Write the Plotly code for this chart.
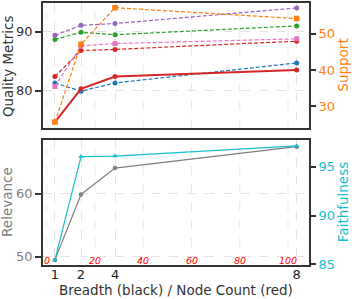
import plotly.graph_objects as go

# ---- data ----
breadth_labels = ["1", "2", "4", "8"]
node_counts = [3.4, 14.2, 28.3, 103.6]          # x positions (node count units)
node_ticks = [0, 20, 40, 60, 80, 100]

q_red_solid = [74.65, 80.3, 82.4, 83.5]
q_purple = [89.4, 91.1, 91.4, 94.05]
q_green = [88.7, 89.9, 89.5, 91.0]
q_pink = [80.7, 87.6, 88.0, 88.8]
q_red_dash = [82.4, 86.8, 87.0, 88.4]
q_blue = [81.3, 79.9, 81.3, 84.7]
support = [25.6, 47.1, 57.2, 54.2]
relevance = [49.5, 59.9, 64.1, 67.5]
faithfulness = [85.45, 96.05, 96.1, 97.14]

BLUE, ORANGE, GREEN, RED = "#1f77b4", "#ff7f0e", "#2ca02c", "#d62728"
PURPLE, PINK, GRAY, CYAN = "#9467bd", "#e377c2", "#7f7f7f", "#17becf"
FONT = "DejaVu Sans"
DARK = "#333333"
GRID = "#e3e3e3"

fig = go.Figure()

def dashed(y, color, symbol="circle"):
    return go.Scatter(x=node_counts, y=y, mode="lines+markers", xaxis="x", yaxis="y",
                      line=dict(color=color, width=1.2, dash="4px,2px"),
                      marker=dict(color=color, size=5, symbol=symbol), showlegend=False)

fig.add_trace(dashed(q_blue, BLUE))
fig.add_trace(dashed(q_red_dash, RED))
fig.add_trace(dashed(q_pink, PINK, "square"))
fig.add_trace(dashed(q_green, GREEN))
fig.add_trace(dashed(q_purple, PURPLE))
fig.add_trace(go.Scatter(x=node_counts, y=q_red_solid, mode="lines+markers", xaxis="x", yaxis="y",
                         line=dict(color=RED, width=2), marker=dict(color=RED, size=5),
                         showlegend=False))
fig.add_trace(go.Scatter(x=node_counts, y=support, mode="lines+markers", xaxis="x", yaxis="y2",
                         line=dict(color=ORANGE, width=1.2, dash="4px,2px"),
                         marker=dict(color=ORANGE, size=5.5, symbol="square"), showlegend=False))

fig.add_trace(go.Scatter(x=node_counts, y=relevance, mode="lines+markers", xaxis="x2", yaxis="y3",
                         line=dict(color=GRAY, width=1.2), marker=dict(color=GRAY, size=4.5),
                         showlegend=False))
fig.add_trace(go.Scatter(x=node_counts, y=faithfulness, mode="lines+markers", xaxis="x2", yaxis="y4",
                         line=dict(color=CYAN, width=1.2),
                         marker=dict(color=CYAN, size=5, symbol="triangle-up"), showlegend=False))

xr = [-1.55, 108.7]
common_x = dict(range=xr, tickvals=node_counts, ticktext=breadth_labels, showgrid=True,
                gridcolor=GRID, griddash="dash", gridwidth=0.8, zeroline=False,
                showline=True, mirror=True, linecolor=DARK, linewidth=1.5)

fig.update_layout(
    width=352, height=299,
    margin=dict(l=43, r=43, t=1, b=34),
    paper_bgcolor="white", plot_bgcolor="white",
    font=dict(family=FONT, size=13, color=DARK),
    xaxis=dict(domain=[0, 1], anchor="y", showticklabels=False, ticks="", **common_x),
    yaxis=dict(domain=[0.524, 1], anchor="x", range=[73.69, 94.89], tickvals=[80, 90],
               showgrid=True, gridcolor=GRID, griddash="dash", gridwidth=0.8, zeroline=False,
               showline=True, mirror=True, linecolor=DARK, linewidth=1.5,
               ticks="outside", ticklen=6, tickcolor=DARK, tickwidth=1.5,
               tickfont=dict(size=13, color=DARK)),
    yaxis2=dict(overlaying="y", side="right", anchor="x", range=[24.05, 58.5],
                tickvals=[30, 40, 50], showgrid=False, zeroline=False,
                ticks="outside", ticklen=6, tickcolor=DARK, tickwidth=1.5,
                tickfont=dict(size=13, color=ORANGE)),
    xaxis2=dict(domain=[0, 1], anchor="y3", matches="x", ticks="", ticklabelstandoff=-3,
                tickfont=dict(size=13, color="#222222"), **common_x),
    yaxis3=dict(domain=[0, 0.479], anchor="x2", range=[48.69, 68.64], tickvals=[50, 60],
                showgrid=True, gridcolor=GRID, griddash="dash", gridwidth=0.8, zeroline=False,
                showline=True, mirror=True, linecolor=DARK, linewidth=1.5,
                ticks="outside", ticklen=6, tickcolor=DARK, tickwidth=1.5,
                tickfont=dict(size=13, color=GRAY)),
    yaxis4=dict(overlaying="y3", side="right", anchor="x2", range=[84.93, 97.8],
                tickvals=[85, 90, 95], showgrid=False, zeroline=False,
                ticks="outside", ticklen=6, tickcolor=DARK, tickwidth=1.5,
                tickfont=dict(size=13, color=CYAN)),
)

# node-count gridlines in both panels
shapes = []
for v in node_ticks:
    for xref, yref in (("x", "y domain"), ("x2", "y3 domain")):
        shapes.append(dict(type="line", xref=xref, yref=yref, x0=v, x1=v, y0=0, y1=1,
                           layer="below", line=dict(color=GRID, width=0.8, dash="dash")))
fig.update_layout(shapes=shapes)

annotations = []
for v in node_ticks:
    annotations.append(dict(x=v, y=0.034, xref="x2", yref="y3 domain", text=f"<i>{v}</i>",
                            showarrow=False, xanchor="center", yanchor="middle",
                            font=dict(family=FONT, size=9.5, color="red")))

def title(text, x, y, color, angle=-90):
    return dict(x=x, y=y, xref="paper", yref="paper", text=text, showarrow=False,
                textangle=angle, xanchor="center", yanchor="middle",
                font=dict(family=FONT, size=13.5, color=color))

annotations += [
    title("Quality Metrics", -0.1335, 0.761, DARK),
    title("Support", 1.128, 0.761, ORANGE),
    title("Relevance", -0.136, 0.24, GRAY),
    title("Faithfulness", 1.128, 0.24, CYAN),
    title("Breadth (black) / Node Count (red)", 0.5, -0.0947, DARK, angle=0),
]
fig.update_layout(annotations=annotations)

fig.write_html("out.html", config={"displayModeBar": False},
               post_script="document.body.style.margin='0';")
